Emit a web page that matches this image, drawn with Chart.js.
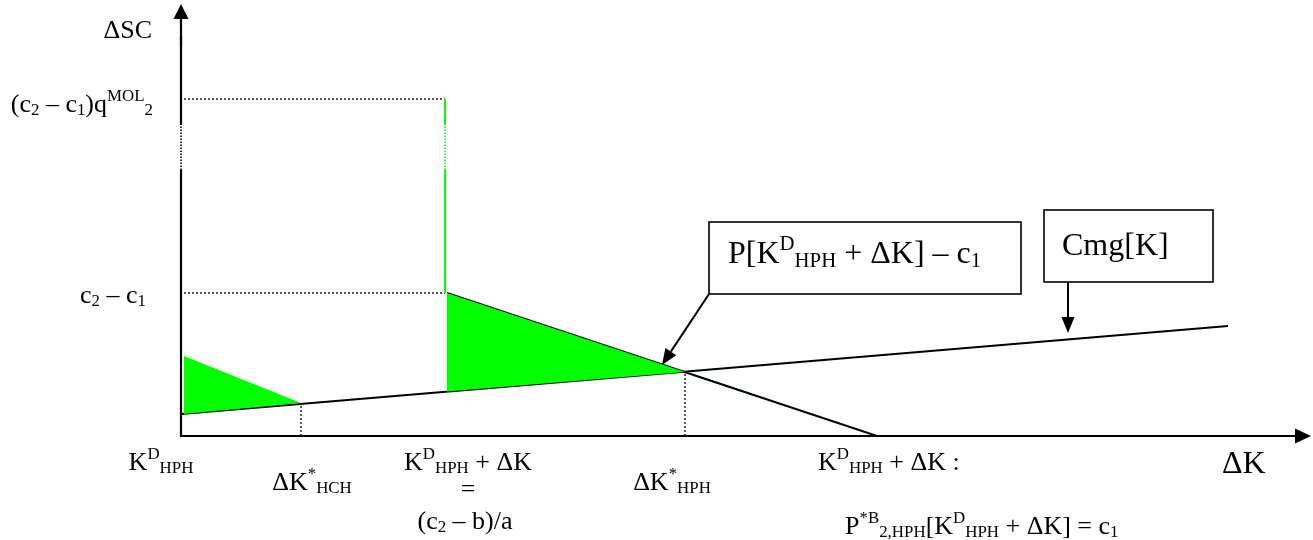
<!DOCTYPE html>
<html><head><meta charset="utf-8">
<script src="https://cdn.jsdelivr.net/npm/chart.js@4.4.0/dist/chart.umd.min.js"></script>
<style>html,body{margin:0;padding:0;background:#fff;overflow:hidden}</style>
</head><body>
<canvas id="c" width="1313" height="540"></canvas>
<script>
// ---- data (ΔK on x, ΔSC on y, arbitrary units) ----
const cmgLine = [[0, 2.2], [104.7, 11.0]];
const demandLine = [[26.6, 14.3], [69.6, 0]];
const bigTriangle = [[26.6, 14.3], [50.4, 6.4], [26.6, 4.45]];
const smallTriangle = [[0.3, 8.0], [12.0, 3.3], [0.3, 2.2]];
const demandGreenPart = [[50.4, 6.4], [57.6, 4.0]];
const qMolLevel = 33.7;
const c2c1Level = 14.3;
const stepX = 26.4;
const dottedGap = [26.6, 31.1];
const xTickValues = [0, 12.0, 26.6, 50.4, 69.6];
const xTickLabels = [
  ['K^{D}_{HPH}'],
  ['ΔK^{*}_{HCH}'],
  ['K^{D}_{HPH} + ΔK', '=', '(c_{2} – b)/a'],
  ['ΔK^{*}_{HPH}'],
  ['K^{D}_{HPH} + ΔK :', 'P^{*B}_{2,HPH}[K^{D}_{HPH} + ΔK] = c_{1}']
];
const yTickValues = [qMolLevel, c2c1Level];
const yTickLabels = ['(c_{2} – c_{1})q^{MOL}_{2}', 'c_{2} – c_{1}'];
const yAxisTitle = 'ΔSC';
const xAxisTitle = 'ΔK';
const demandNote = 'P[K^{D}_{HPH} + ΔK] – c_{1}';
const cmgNote = 'Cmg[K]';

// ---- helpers ----
const pts = a => a.map(p => ({x: p[0], y: p[1]}));
const GREEN = '#00ff00';
const FONT = '"Liberation Serif", "Times New Roman", serif';

function parseRich(s) {
  const runs = []; let buf = ''; let i = 0;
  while (i < s.length) {
    const ch = s[i];
    if ((ch === '^' || ch === '_') && s[i + 1] === '{') {
      if (buf) { runs.push({t: buf, m: 'n'}); buf = ''; }
      const end = s.indexOf('}', i);
      runs.push({t: s.slice(i + 2, end), m: ch === '^' ? 'sup' : 'sub'});
      i = end + 1;
    } else { buf += ch; i++; }
  }
  if (buf) runs.push({t: buf, m: 'n'});
  return runs;
}
function drawRich(ctx, s, x, y, size, align) {
  const runs = parseRich(s);
  let w = 0;
  runs.forEach(r => {
    r.sz = r.m === 'n' ? size : size * 0.65;
    ctx.font = r.sz + 'px ' + FONT;
    r.w = ctx.measureText(r.t).width; w += r.w;
  });
  let cx = align === 'center' ? x - w / 2 : align === 'right' ? x - w : x;
  ctx.fillStyle = '#000'; ctx.textBaseline = 'alphabetic'; ctx.textAlign = 'left';
  runs.forEach(r => {
    ctx.font = r.sz + 'px ' + FONT;
    const dy = r.m === 'sup' ? -0.42 * size : r.m === 'sub' ? 0.12 * size : 0;
    ctx.fillText(r.t, cx, y + dy);
    cx += r.w;
  });
}
function arrowLine(ctx, x1, y1, x2, y2, len, half, lw) {
  const a = Math.atan2(y2 - y1, x2 - x1);
  const bx = x2 - len * Math.cos(a), by = y2 - len * Math.sin(a);
  ctx.lineWidth = lw; ctx.strokeStyle = '#000'; ctx.setLineDash([]);
  ctx.beginPath(); ctx.moveTo(x1, y1); ctx.lineTo(bx, by); ctx.stroke();
  ctx.fillStyle = '#000'; ctx.beginPath();
  ctx.moveTo(x2, y2);
  ctx.lineTo(bx + half * Math.sin(a), by - half * Math.cos(a));
  ctx.lineTo(bx - half * Math.sin(a), by + half * Math.cos(a));
  ctx.closePath(); ctx.fill();
}

// ---- layout of annotations (pixel offsets / data anchors) ----
const xLabelLayout = [
  [{dx: -20, y: 470, align: 'center'}],
  [{dx: 11, y: 490, align: 'center'}],
  [{dx: 21, y: 470, align: 'center'}, {dx: 21, y: 497, align: 'center'}, {dx: 18, y: 529, align: 'center'}],
  [{dx: -13, y: 490, align: 'center'}],
  [{dx: -59, y: 470, align: 'left'}, {dx: -32, y: 534, align: 'left'}]
];
const yLabelLayout = [{x: 153, dy: 13}, {x: 146, dy: 10}];

const annot = {
  id: 'annot',
  afterDraw(chart) {
    const ctx = chart.ctx, X = v => chart.scales.x.getPixelForValue(v), Y = v => chart.scales.y.getPixelForValue(v);
    ctx.save();
    ctx.lineCap = 'butt';
    // y axis with dotted gap
    const ax = X(0);
    ctx.strokeStyle = '#000'; ctx.lineWidth = 2.2;
    ctx.beginPath(); ctx.moveTo(ax, Y(0) + 1); ctx.lineTo(ax, Y(dottedGap[0])); ctx.stroke();
    ctx.beginPath(); ctx.moveTo(ax, Y(dottedGap[1])); ctx.lineTo(ax, Y(40)); ctx.stroke();
    ctx.setLineDash([1.5, 1.5]); ctx.lineWidth = 1.6;
    ctx.beginPath(); ctx.moveTo(ax, Y(dottedGap[0])); ctx.lineTo(ax, Y(dottedGap[1])); ctx.stroke();
    ctx.setLineDash([]);
    arrowLine(ctx, ax, Y(39), ax, Y(43.2), 15, 7.5, 2.2);
    // x axis
    arrowLine(ctx, ax - 1, Y(0), X(113), Y(0), 16, 7.5, 2.2);
    // green step line with dotted gap
    const gx = X(stepX);
    ctx.strokeStyle = GREEN; ctx.lineWidth = 2;
    ctx.beginPath(); ctx.moveTo(gx, Y(c2c1Level)); ctx.lineTo(gx, Y(dottedGap[0])); ctx.stroke();
    ctx.beginPath(); ctx.moveTo(gx, Y(dottedGap[1])); ctx.lineTo(gx, Y(qMolLevel)); ctx.stroke();
    ctx.setLineDash([1.5, 1.5]); ctx.lineWidth = 1.5;
    ctx.beginPath(); ctx.moveTo(gx, Y(dottedGap[0])); ctx.lineTo(gx, Y(dottedGap[1])); ctx.stroke();
    ctx.setLineDash([]);
    // boxes
    const boxes = [
      {x1: 52.8, x2: 84.0, y1: 21.4, y2: 14.2, text: demandNote, tx: 728, ty: 263, size: 32},
      {x1: 86.3, x2: 103.2, y1: 22.6, y2: 15.4, text: cmgNote, tx: 1062, ty: 255, size: 32}
    ];
    boxes.forEach(b => {
      const l = X(b.x1), r = X(b.x2), t = Y(b.y1), bt = Y(b.y2);
      ctx.fillStyle = '#fff'; ctx.fillRect(l, t, r - l, bt - t);
      ctx.strokeStyle = '#000'; ctx.lineWidth = 1.6; ctx.strokeRect(l, t, r - l, bt - t);
      drawRich(ctx, b.text, b.tx, b.ty, b.size, 'left');
    });
    arrowLine(ctx, X(52.8), Y(14.2), X(48.1), Y(7.1), 16, 6.5, 2);
    arrowLine(ctx, X(88.7), Y(15.4), X(88.7), Y(10.3), 16, 6.5, 2);
    // tick labels
    xTickValues.forEach((v, i) => {
      xTickLabels[i].forEach((line, j) => {
        const L = xLabelLayout[i][j];
        drawRich(ctx, line, X(v) + L.dx, L.y, 26, L.align);
      });
    });
    yTickValues.forEach((v, i) => {
      drawRich(ctx, yTickLabels[i], yLabelLayout[i].x, Y(v) + yLabelLayout[i].dy, 26, 'right');
    });
    drawRich(ctx, yAxisTitle, 152, 38, 26, 'right');
    drawRich(ctx, xAxisTitle, 1222, 473, 32, 'left');
    ctx.restore();
  }
};

const line = (data, color, width, extra) => Object.assign({
  data: pts(data), showLine: true, borderColor: color, borderWidth: width,
  pointRadius: 0, fill: false, tension: 0, clip: false
}, extra || {});

new Chart(document.getElementById('c'), {
  type: 'scatter',
  data: {
    datasets: [
      line(bigTriangle.concat([bigTriangle[0]]), 'rgba(0,0,0,0)', 0, {fill: 'shape', backgroundColor: GREEN}),
      line(smallTriangle.concat([smallTriangle[0]]), 'rgba(0,0,0,0)', 0, {fill: 'shape', backgroundColor: GREEN}),
      line([[0.3, qMolLevel], [stepX, qMolLevel]], '#000', 1.3, {borderDash: [2, 2]}),
      line([[0.3, c2c1Level], [stepX, c2c1Level]], '#000', 1.3, {borderDash: [2, 2]}),
      line([[smallTriangle[1][0], 0], smallTriangle[1]], '#000', 1.3, {borderDash: [2, 2]}),
      line([[bigTriangle[1][0], 0], bigTriangle[1]], '#000', 1.3, {borderDash: [2, 2]}),
      line(demandLine, '#000', 2),
      line(demandGreenPart, GREEN, 1.5),
      line(cmgLine, '#000', 2)
    ]
  },
  options: {
    responsive: false, animation: false, devicePixelRatio: 1,
    layout: {padding: {left: 181, right: 2, top: 4, bottom: 104}},
    plugins: {legend: {display: false}, tooltip: {enabled: false}},
    scales: {
      x: {type: 'linear', min: 0, max: 113, display: false},
      y: {type: 'linear', min: 0, max: 43.2, display: false}
    }
  },
  plugins: [annot]
});
</script>
</body></html>
